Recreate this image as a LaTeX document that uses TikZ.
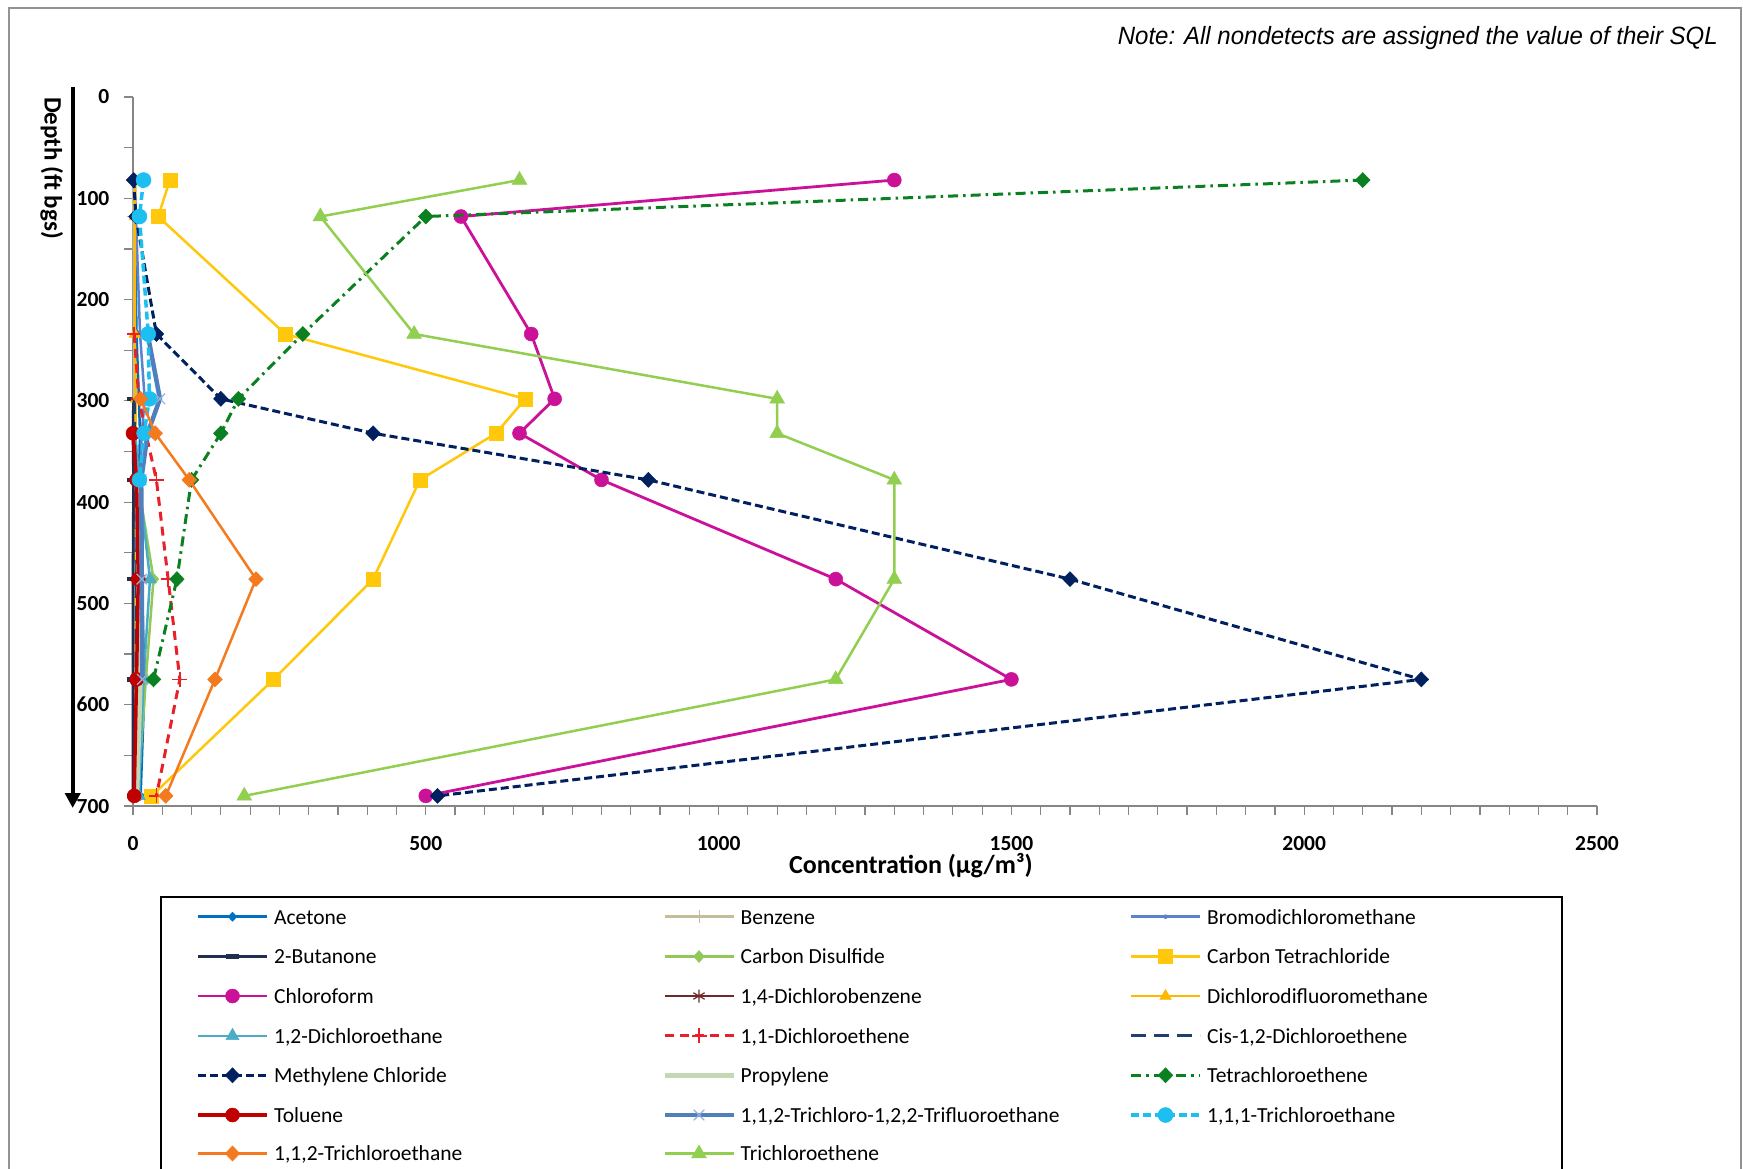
\documentclass[tikz,border=0pt]{standalone}
\usepackage{fontspec}
\setmainfont{Carlito}
\newfontfamily\notefont{Liberation Sans}
\usetikzlibrary{plotmarks,arrows.meta}

\definecolor{cAcetone}{HTML}{0070C0}
\definecolor{cBenzene}{HTML}{C4BD97}
\definecolor{cBromo}{HTML}{5B82CF}
\definecolor{cButanone}{HTML}{1F2F4F}
\definecolor{cCSTwo}{HTML}{92C85A}
\definecolor{cCT}{HTML}{FFC80A}
\definecolor{cChloro}{HTML}{CC1199}
\definecolor{cDCB}{HTML}{6E2A2A}
\definecolor{cDCDFM}{HTML}{FFB800}
\definecolor{cDCA}{HTML}{4BACC6}
\definecolor{cDCE}{HTML}{E8202A}
\definecolor{cCis}{HTML}{1F3F6D}
\definecolor{cMC}{HTML}{002060}
\definecolor{cProp}{HTML}{C6D7B6}
\definecolor{cPCE}{HTML}{0A8020}
\definecolor{cTol}{HTML}{C00000}
\definecolor{cCFC}{HTML}{4F7FBD}
\definecolor{cTCAa}{HTML}{1DBFF0}
\definecolor{cTCAb}{HTML}{F47A20}
\definecolor{cTCE}{HTML}{92CF50}
\definecolor{axisgray}{HTML}{868686}

\tikzset{
  sAcetone/.style={draw=cAcetone, line width=2.5pt, mark=diamond*, mark size=4.5pt, mark options={fill=cAcetone, draw=cAcetone, solid, line width=0.5pt, xscale=1.3}},
  sBenzene/.style={draw=cBenzene, line width=2.5pt, mark=+, mark size=6.5pt, mark options={solid, line width=1pt}},
  sBromo/.style={draw=cBromo, line width=2.5pt, mark=*, mark size=2pt, mark options={fill=cBromo, draw=cBromo, solid, line width=0.5pt}},
  sButanone/.style={draw=cButanone, line width=2.8pt, mark=-, mark size=6.5pt, mark options={solid, line width=4.5pt}},
  sCSTwo/.style={draw=cCSTwo, line width=2.5pt, mark=diamond*, mark size=6pt, mark options={fill=cCSTwo, draw=cCSTwo, solid, line width=0.5pt, xscale=1.2}},
  sCT/.style={draw=cCT, line width=2.5pt, mark=square*, mark size=7pt, mark options={fill=cCT, draw=cCT, solid, line width=0.5pt}},
  sChloro/.style={draw=cChloro, line width=2.8pt, mark=*, mark size=7pt, mark options={fill=cChloro, draw=cChloro, solid, line width=0.5pt}},
  sDCB/.style={draw=cDCB, line width=2.5pt, mark=asterisk, mark size=6.5pt, mark options={solid, line width=1.2pt}},
  sDCDFM/.style={draw=cDCDFM, line width=2.5pt, mark=triangle*, mark size=6.5pt, mark options={fill=cDCDFM, draw=cDCDFM, solid, line width=0.5pt}},
  sDCA/.style={draw=cDCA, line width=2.5pt, mark=triangle*, mark size=7.5pt, mark options={fill=cDCA, draw=cDCA, solid, line width=0.5pt}},
  sDCE/.style={draw=cDCE, line width=3pt, dash pattern=on 9pt off 6pt, mark=+, mark size=7.5pt, mark options={solid, line width=1.5pt}},
  sCis/.style={draw=cCis, line width=3pt, dash pattern=on 15pt off 8pt},
  sMC/.style={draw=cMC, line width=3pt, dash pattern=on 8pt off 4pt, mark=diamond*, mark size=7.5pt, mark options={fill=cMC, draw=cMC, solid, line width=0.5pt, xscale=1.3}},
  sProp/.style={draw=cProp, line width=5.5pt},
  sPCE/.style={draw=cPCE, line width=3pt, dash pattern=on 10pt off 5pt on 2.5pt off 5pt, mark=diamond*, mark size=7.5pt, mark options={fill=cPCE, draw=cPCE, solid, line width=0.5pt, xscale=1.3}},
  sTol/.style={draw=cTol, line width=3.5pt, mark=*, mark size=7pt, mark options={fill=cTol, draw=cTol, solid, line width=0.5pt}},
  sCFC/.style={draw=cCFC, line width=4.5pt, mark=x, mark size=7.5pt, mark options={solid, line width=1.2pt, draw=cCFC!60}},
  sTCAa/.style={draw=cTCAa, line width=3.5pt, dash pattern=on 8pt off 4pt, mark=*, mark size=7.5pt, mark options={fill=cTCAa, draw=cTCAa, solid, line width=0.5pt}},
  sTCAb/.style={draw=cTCAb, line width=2.5pt, mark=diamond*, mark size=7.5pt, mark options={fill=cTCAb, draw=cTCAb, solid, line width=0.5pt, xscale=1.3}},
  sTCE/.style={draw=cTCE, line width=2.5pt, mark=triangle*, mark size=8.5pt, mark options={fill=cTCE, draw=cTCE, solid, line width=0.5pt}},
  legtext/.style={font=\fontsize{21.5}{25}\selectfont, inner sep=0pt, anchor=base west},
  ticklab/.style={font=\bfseries\fontsize{21.5}{25}\selectfont, inner sep=0pt},
  tickline/.style={draw=axisgray, line width=1.2pt},
}

\newcommand\legitem[5]{%
  \draw[#4, mark indices={2}] plot coordinates {(#2,#3) ({#2+34.5},#3) ({#2+69},#3)};
  \node[legtext] (#1) at ({#2+76},{#3+7.3}) {#5};
}

\begin{document}
\begin{tikzpicture}[x=1pt,y=-1pt]
\useasboundingbox (0,0) rectangle (1743,1169);
\clip (0,0) rectangle (1743,1169);
\fill[white] (0,0) rectangle (1743,1169);
\draw[gray!85, line width=1.8pt] (9,8) rectangle (1741,1220);

% note
\node[anchor=east, inner sep=0pt] (note) at (1718,37.7)
  {\notefont\itshape\fontsize{25}{30}\selectfont\scalebox{0.96}[1]{Note: All nondetects are assigned the value of their SQL}};

% axis labels
\node[font=\bfseries\fontsize{25}{30}\selectfont, rotate=-90, inner sep=0pt] (ylabel) at (51.7,168) {Depth (ft bgs)};
\node[font=\bfseries\fontsize{26}{31}\selectfont, inner sep=0pt, anchor=base] (xlabel) at (911,873.5) {Concentration (µg/m³)};

\begin{scope}[shift={(133,97)}, x=0.5856pt, y=-1.01286pt]
  \draw[tickline] (0,0) -- (0,700) -- (2500,700);
  \foreach \d in {0,50,...,700} \draw[tickline] (0,\d) -- ++(-9pt,0pt);
  \foreach \c in {0,50,...,2500} \draw[tickline] (\c,700) -- ++(0pt,-9pt);
  \foreach \d in {0,100,...,700} \node[ticklab, anchor=base east, xshift=-23.5pt, yshift=-7pt] (yl\d) at (0,\d) {\d};
  \foreach \c in {0,500,...,2500} \node[ticklab, anchor=base, yshift=-44.7pt] (xl\c) at (\c,700) {\c};

  % data series
  \draw[sAcetone] plot coordinates {(2,82) (3,118) (6,234) (10,298) (12,332) (10,378) (14,476) (20,575) (13,690)};
  \draw[sBenzene] plot coordinates {(0,82) (1,118) (2,234) (2,298) (2,332) (3,378) (3,476) (3,575) (2,690)};
  \draw[sBromo] plot coordinates {(3,82) (5,118) (12,234) (20,298) (15,332) (12,378) (14,476) (16,575) (10,690)};
  \draw[sButanone] plot coordinates {(1,298) (0,332) (1,378) (0,476) (0,575) (0,690)};
  \draw[sCSTwo] plot coordinates {(4,332) (8,378) (35,476) (22,575) (8,690)};
  \draw[sCT] plot coordinates {(63,82) (43,118) (260,234) (670,298) (620,332) (490,378) (410,476) (240,575) (32,690)};
  \draw[sChloro] plot coordinates {(1300,82) (560,118) (680,234) (720,298) (660,332) (800,378) (1200,476) (1500,575) (500,690)};
  \draw[sDCB] plot coordinates {(2,332) (6,378) (11,476) (8,575) (3,690)};
  \draw[sDCDFM] plot coordinates {(4,82) (3,118) (3,234) (5,298) (4,332) (5,378) (6,476) (5,575) (4,690)};
  \draw[sDCA] plot coordinates {(4,332) (10,378) (29,476) (18,575) (10,690)};
  \draw[sDCE] plot coordinates {(2,234) (10,298) (22,332) (40,378) (60,476) (80,575) (40,690)};
  \draw[sCis] plot coordinates {(2,298) (3,332) (4,378) (6,476) (5,575) (4,690)};
  \draw[sMC] plot coordinates {(1,82) (5,118) (40,234) (150,298) (410,332) (880,378) (1600,476) (2200,575) (520,690)};
  \draw[sProp] plot coordinates {(8,378) (10,476) (12,575) (6,690)};
  \draw[sPCE] plot coordinates {(2100,82) (500,118) (290,234) (180,298) (150,332) (100,378) (75,476) (35,575)};
  \draw[sTol] plot coordinates {(0,332) (6,378) (9,476) (6,575) (2,690)};
  \draw[sCFC] plot coordinates {(25,234) (46,298) (25,332) (14,378) (15,476) (16,575)};
  \draw[sTCAa] plot coordinates {(18,82) (11,118) (26,234) (28,298) (19,332) (11,378)};
  \draw[sTCAb] plot coordinates {(13,298) (38,332) (96,378) (210,476) (140,575) (56,690)};
  \draw[sTCE] plot coordinates {(660,82) (320,118) (480,234) (1100,298) (1100,332) (1300,378) (1300,476) (1200,575) (190,690)};
\end{scope}

% depth arrow
\draw[line width=4pt, -{Triangle[width=15pt,length=15pt]}] (72.7,87) -- (72.7,808);

% legend
\draw[black, line width=1.5pt] (161,1220) -- (161,897) -- (1562,897) -- (1562,1220);
\begin{scope}[every mark/.append style={scale=0.8}]
  \legitem{lA}{198}{916.7}{sAcetone}{Acetone}
  \legitem{lB}{664.5}{916.7}{sBenzene}{Benzene}
  \legitem{lC}{1131}{916.7}{sBromo}{Bromodichloromethane}
  \legitem{lD}{198}{956.5}{sButanone}{2-Butanone}
  \legitem{lE}{664.5}{956.5}{sCSTwo}{Carbon Disulfide}
  \legitem{lF}{1131}{956.5}{sCT}{Carbon Tetrachloride}
  \legitem{lG}{198}{996}{sChloro}{Chloroform}
  \legitem{lH}{664.5}{996}{sDCB}{1,4-Dichlorobenzene}
  \legitem{lI}{1131}{996}{sDCDFM}{Dichlorodifluoromethane}
  \legitem{lJ}{198}{1035.8}{sDCA}{1,2-Dichloroethane}
  \legitem{lK}{664.5}{1035.8}{sDCE}{1,1-Dichloroethene}
  \legitem{lL}{1131}{1035.8}{sCis}{Cis-1,2-Dichloroethene}
  \legitem{lM}{198}{1075.3}{sMC}{Methylene Chloride}
  \legitem{lN}{664.5}{1075.3}{sProp}{Propylene}
  \legitem{lO}{1131}{1075.3}{sPCE}{Tetrachloroethene}
  \legitem{lP}{198}{1115}{sTol}{Toluene}
  \legitem{lQ}{664.5}{1115}{sCFC}{1,1,2-Trichloro-1,2,2-Trifluoroethane}
  \legitem{lR}{1131}{1115}{sTCAa}{1,1,1-Trichloroethane}
  \legitem{lS}{198}{1153.5}{sTCAb}{1,1,2-Trichloroethane}
  \legitem{lT}{664.5}{1153.5}{sTCE}{Trichloroethene}
\end{scope}
\end{tikzpicture}
\end{document}
